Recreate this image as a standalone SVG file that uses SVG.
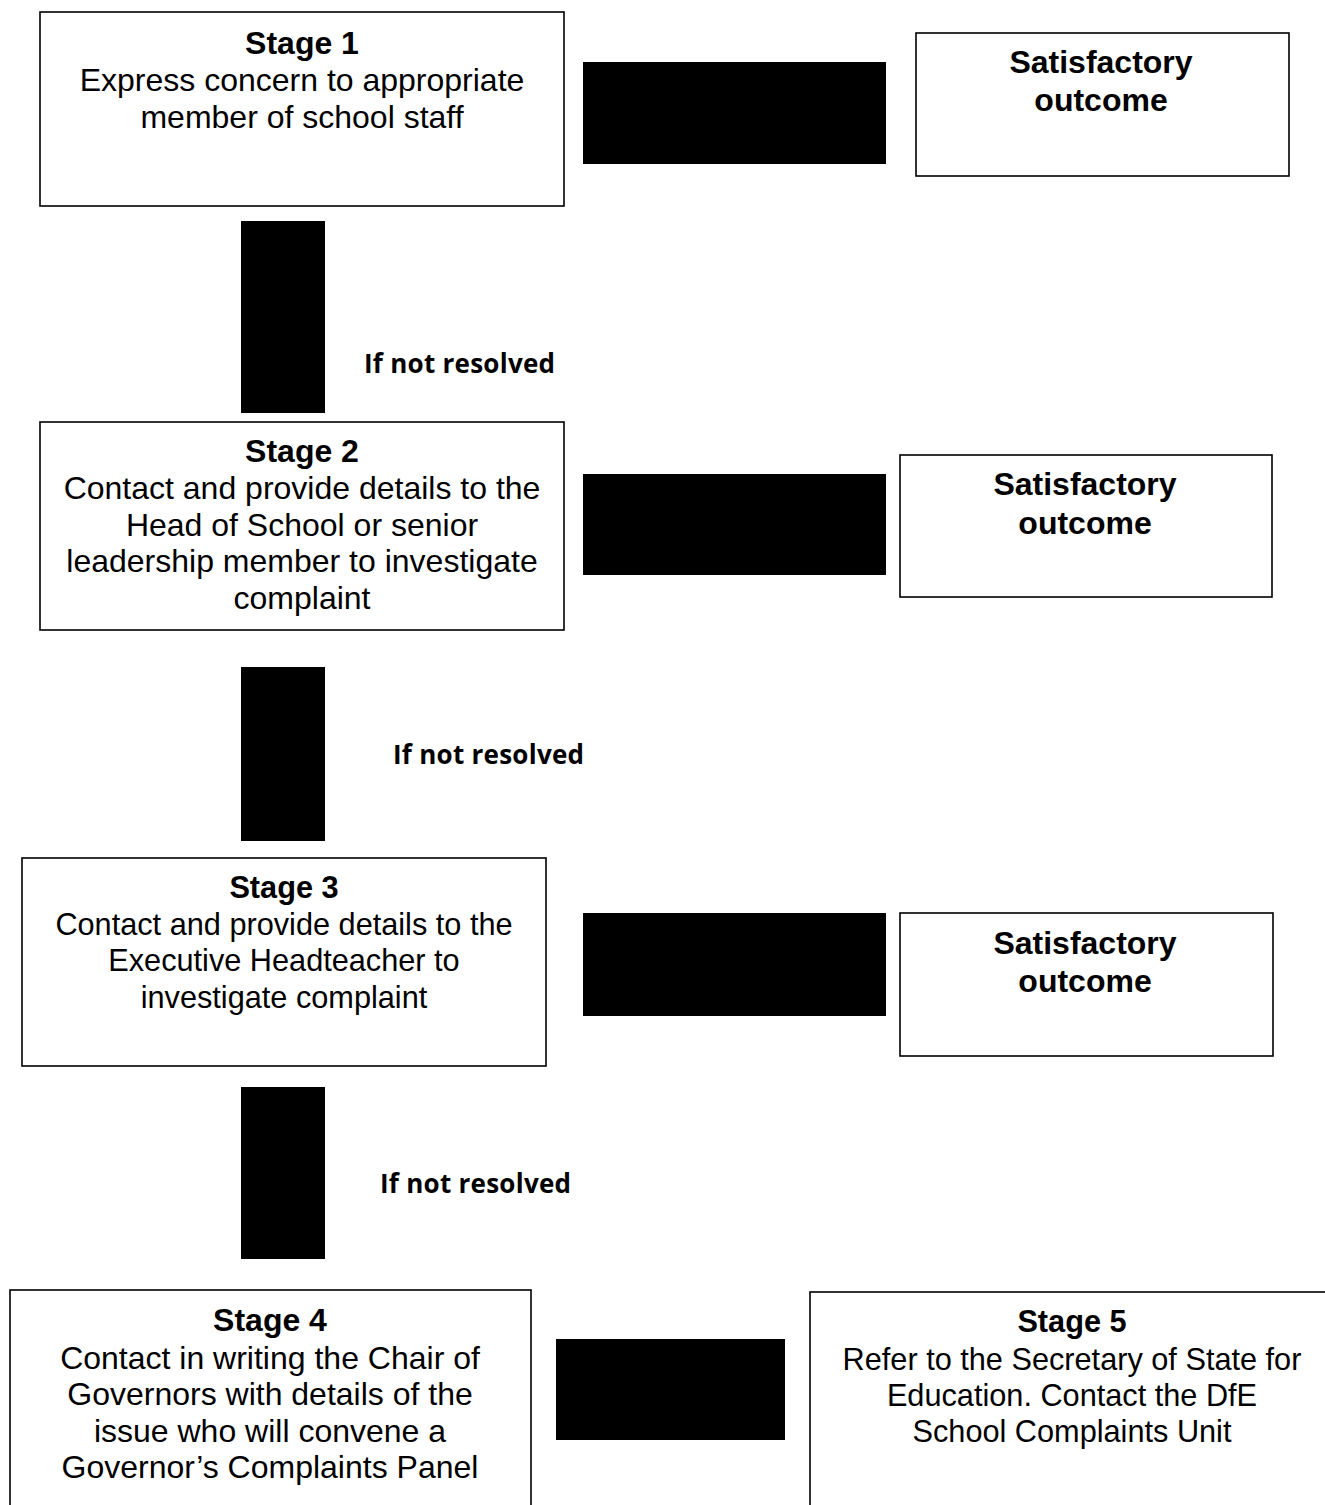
<svg xmlns="http://www.w3.org/2000/svg" width="1325" height="1505" viewBox="0 0 1325 1505">
<style>
.box{fill:#fff;stroke:#000;stroke-width:1.6}
.conn{fill:#000}
.t{font-family:"Liberation Sans",Arial,sans-serif;font-size:32px;fill:#000;text-anchor:middle}
.s{font-size:30.7px}
.b{font-weight:bold}
.lbl{font-family:"Open Sans","Liberation Sans",sans-serif;font-weight:bold;font-size:26px;fill:#000}
</style>
<rect width="1325" height="1505" fill="#fff"/>
<g id="connectors">
<rect class="conn" x="583" y="62" width="303" height="102"/>
<rect class="conn" x="241" y="221" width="84" height="192"/>
<rect class="conn" x="583" y="474" width="303" height="101"/>
<rect class="conn" x="241" y="667" width="84" height="174"/>
<rect class="conn" x="583" y="913" width="303" height="103"/>
<rect class="conn" x="241" y="1087" width="84" height="172"/>
<rect class="conn" x="556" y="1339" width="229" height="101"/>
<text class="lbl" x="364" y="373" textLength="191">If not resolved</text>
<text class="lbl" x="393" y="764" textLength="191">If not resolved</text>
<text class="lbl" x="380" y="1193" textLength="191">If not resolved</text>
</g>
<g id="stage1">
<rect class="box" x="40" y="12" width="524" height="194"/>
<text class="t b" x="302" y="54">Stage 1</text>
<text class="t" x="302" y="91">Express concern to appropriate</text>
<text class="t" x="302" y="128">member of school staff</text>
</g>
<g id="outcome1">
<rect class="box" x="916" y="33" width="373" height="143"/>
<text class="t b" x="1101" y="73">Satisfactory</text>
<text class="t b" x="1101" y="111">outcome</text>
</g>
<g id="stage2">
<rect class="box" x="40" y="422" width="524" height="208"/>
<text class="t b" x="302" y="462">Stage 2</text>
<text class="t" x="302" y="499">Contact and provide details to the</text>
<text class="t" x="302" y="536">Head of School or senior</text>
<text class="t" x="302" y="572">leadership member to investigate</text>
<text class="t" x="302" y="609">complaint</text>
</g>
<g id="outcome2">
<rect class="box" x="900" y="455" width="372" height="142"/>
<text class="t b" x="1085" y="495">Satisfactory</text>
<text class="t b" x="1085" y="534">outcome</text>
</g>
<g id="stage3">
<rect class="box" x="22" y="858" width="524" height="208"/>
<text class="t b s" x="284" y="898">Stage 3</text>
<text class="t s" x="284" y="935">Contact and provide details to the</text>
<text class="t s" x="284" y="971">Executive Headteacher to</text>
<text class="t s" x="284" y="1008">investigate complaint</text>
</g>
<g id="outcome3">
<rect class="box" x="900" y="913" width="373" height="143"/>
<text class="t b" x="1085" y="954">Satisfactory</text>
<text class="t b" x="1085" y="992">outcome</text>
</g>
<g id="stage4">
<rect class="box" x="10" y="1290" width="521" height="230"/>
<text class="t b" x="270" y="1331">Stage 4</text>
<text class="t" x="270" y="1369">Contact in writing the Chair of</text>
<text class="t" x="270" y="1405">Governors with details of the</text>
<text class="t" x="270" y="1442">issue who will convene a</text>
<text class="t" x="270" y="1478">Governor’s Complaints Panel</text>
</g>
<g id="stage5">
<rect class="box" x="810" y="1292" width="530" height="230"/>
<text class="t b s" x="1072" y="1332">Stage 5</text>
<text class="t s" x="1072" y="1370">Refer to the Secretary of State for</text>
<text class="t s" x="1072" y="1406">Education. Contact the DfE</text>
<text class="t s" x="1072" y="1442">School Complaints Unit</text>
</g>
</svg>
